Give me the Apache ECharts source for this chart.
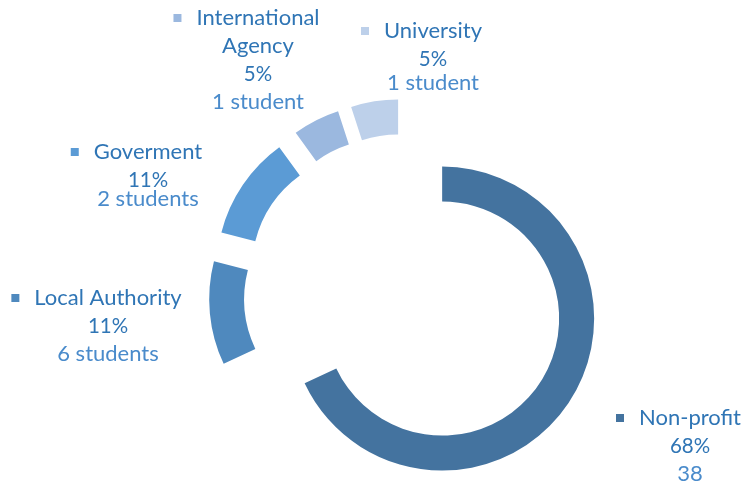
<!DOCTYPE html>
<html>
<head>
<meta charset="utf-8">
<script src="https://cdn.jsdelivr.net/npm/echarts@6/dist/echarts.min.js"></script>
<style>
  html, body { margin: 0; padding: 0; background: #fff; }
  #chart { width: 743px; height: 487px; }
</style>
</head>
<body>
<div id="chart"></div>
<script>
// data
const categories = ['Non-profit', 'Local Authority', 'Goverment', 'International\nAgency', 'University']
const shares = [68, 11, 11, 5, 5]
const countLabels = ['38', '6 students', '2 students', '1 student', '1 student']

const colors = ['#44739F', '#4F89BE', '#5B9BD5', '#9BB8DF', '#BDD0EA']
// label blocks: centre x, top y, height of the last line
const labelSpots = [[690, 404, 28], [108, 284, 28], [148, 138, 10], [258, 4, 28], [433, 17, 20]]

const chart = echarts.init(document.getElementById('chart'))

const data = categories.map((name, i) => ({
  name,
  value: shares[i],
  selected: true,
  itemStyle: { color: colors[i] },
}))

const total = shares.reduce((a, b) => a + b, 0)
const font = 'Lato'

// the labels sit free of the ring, so draw them as graphic texts
const labels = categories.map((name, i) => {
  const lines = name.split('\n')
  const text = [
    '{m|}{g|}{n|' + lines[0] + '}{sp|}',
    ...lines.slice(1).map((l) => '{n|' + l + '}'),
    '{p|' + Math.round((shares[i] / total) * 100) + '%}',
    '{c|' + countLabels[i] + '}',
  ].join('\n')
  return {
    type: 'text',
    x: labelSpots[i][0],
    y: labelSpots[i][1],
    silent: true,
    style: {
      text,
      align: 'center',
      verticalAlign: 'top',
      rich: {
        m: { width: 8, height: 8, backgroundColor: colors[i], verticalAlign: 'middle' },
        g: { width: 15, height: 8 },
        sp: { width: 23, height: 8 },
        n: { fontSize: 22, fill: '#2F75B5', lineHeight: 28, fontFamily: font },
        p: { fontSize: 20.5, fill: '#2F75B5', lineHeight: 28, fontFamily: font },
        c: { fontSize: 22, fill: '#4A8BCB', lineHeight: labelSpots[i][2], fontFamily: font },
      },
    },
  }
})

chart.setOption({
  animation: false,
  graphic: labels,
  series: [
    {
      type: 'pie',
      center: [405, 295],
      radius: [117, 152],
      startAngle: 90,
      clockwise: true,
      selectedMode: 'multiple',
      selectedOffset: 44,
      emphasis: { disabled: true },
      label: { show: false },
      labelLine: { show: false },
      data,
    },
  ],
})
</script>
</body>
</html>
